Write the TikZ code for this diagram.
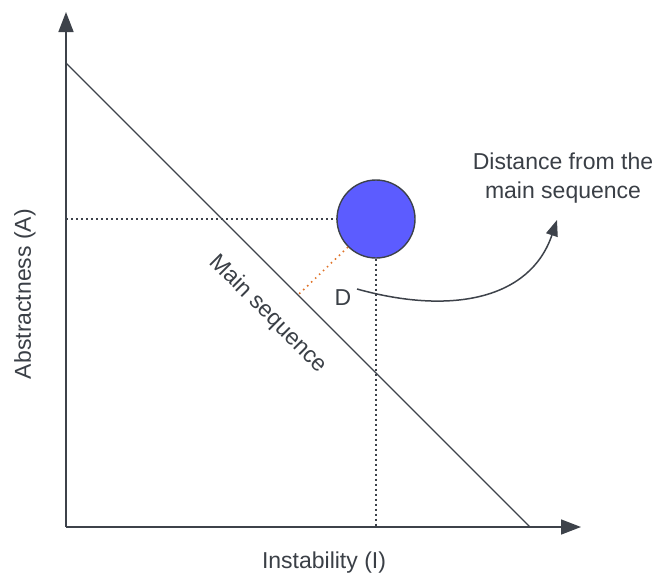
\documentclass[tikz,border=0pt]{standalone}
\usepackage{fontspec}
\setmainfont{Liberation Sans}
\usetikzlibrary{arrows.meta}
\definecolor{ink}{HTML}{3D424A}
\definecolor{txt}{HTML}{3A3F46}
\definecolor{ball}{HTML}{5C5CFF}
\definecolor{orng}{HTML}{E0742A}
\begin{document}
\begin{tikzpicture}[x=1pt,y=-1pt,
  axis/.style={draw=ink,line width=1.6pt,-{Triangle[length=20pt,width=15pt]}},
  guide/.style={draw=ink,line width=1.4pt,dash pattern=on 2pt off 3pt},
  lbl/.style={text=txt,font=\fontsize{23}{29}\selectfont,inner sep=0pt}]
\useasboundingbox (0,0) rectangle (654,576);
\coordinate (O) at (66,527);
\coordinate (ytop) at (66,12);
\coordinate (xend) at (581,527);
\coordinate (ms1) at (66,63);
\coordinate (ms2) at (530,527);
\draw[axis] (O) -- (ytop);
\draw[axis] (O) -- (xend);
\draw[draw=ink,line width=1.4pt] (ms1) -- (ms2);
\node[circle,draw=ink,line width=1.4pt,fill=ball,minimum size=78pt,inner sep=0pt] (c) at (376,219) {};
\coordinate (yl) at (66,219);
\coordinate (xl) at (376,527);
\coordinate (foot) at (298,295);
\draw[guide] (yl) -- (c.west);
\draw[guide] (c.south) -- (xl);
\draw[draw=orng,line width=1.6pt,dash pattern=on 1.5pt off 4pt] (c.225) -- (foot);
\node[lbl] (d) at (343,298) {D};
\coordinate (cs) at (357,289);
\coordinate (ce) at (557,220);
\draw[draw=ink,line width=1.5pt,-{Triangle[length=16pt,width=12pt]}] (cs) .. controls (450,315) and (530,300) .. (ce);
\node[lbl,align=center] (dist) at (563,178) {Distance from the\\main sequence};
\node[lbl,rotate=-45] (ms) at (268,314) {Main sequence};
\node[lbl,rotate=90] (ya) at (25,294) {Abstractness (A)};
\node[lbl] (xa) at (324,563) {Instability (I)};
\end{tikzpicture}
\end{document}
